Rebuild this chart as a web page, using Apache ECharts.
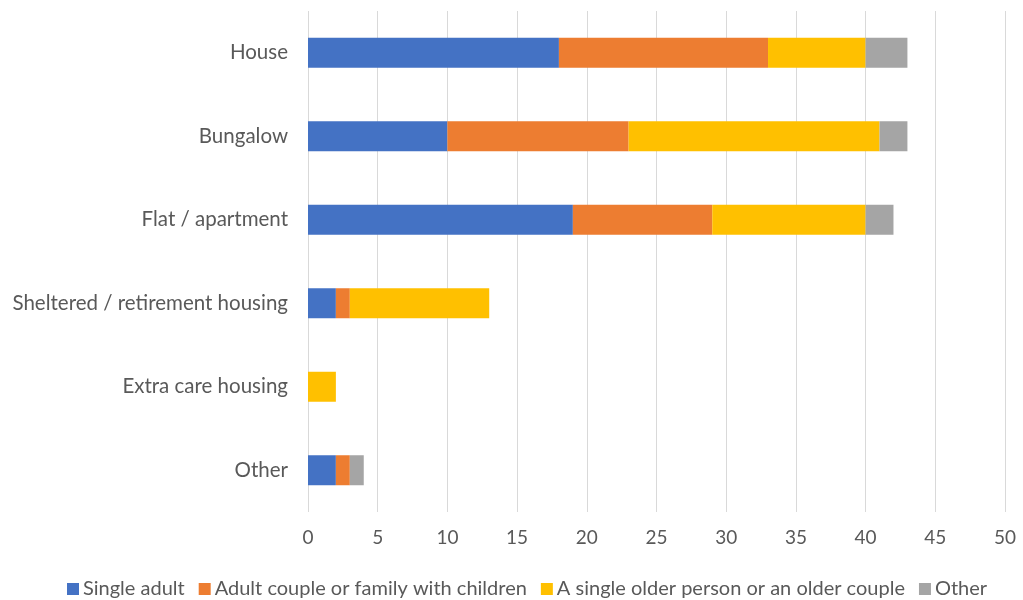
<!DOCTYPE html>
<html><head><meta charset="utf-8">
<script src="https://cdn.jsdelivr.net/npm/echarts@6/dist/echarts.min.js"></script>
<style>html,body{margin:0;padding:0;background:#fff}#c{width:1023px;height:600px}</style>
</head><body><div id="c"></div>
<script>
const categories = ["House","Bungalow","Flat / apartment","Sheltered / retirement housing","Extra care housing","Other"];
const singleAdult = [18,10,19,2,0,2];
const coupleFamily = [15,13,10,1,0,1];
const olderPerson = [7,18,11,10,2,0];
const otherVals = [3,2,2,0,0,1];
const seriesNames = ["Single adult","Adult couple or family with children","A single older person or an older couple","Other"];
const xTicks = {min:0,max:50,interval:5};

const colors = ["#4472C4","#ED7D31","#FFC000","#A5A5A5"];
const font = "Lato, 'Open Sans', sans-serif";
const data = [singleAdult, coupleFamily, olderPerson, otherVals];
const chart = echarts.init(document.getElementById('c'));
chart.setOption({
  animation:false,
  color: colors,
  grid:{left:308,right:18,top:11,bottom:88,containLabel:false},
  xAxis:{type:'value',min:xTicks.min,max:xTicks.max,interval:xTicks.interval,
    axisLine:{show:false},axisTick:{show:false},
    splitLine:{lineStyle:{color:'#d9d9d9',width:1}},
    axisLabel:{color:'#595959',fontSize:19,fontFamily:font,margin:16}},
  yAxis:{type:'category',data:categories,inverse:true,
    axisLine:{show:false},axisTick:{show:false},
    axisLabel:{color:'#595959',fontSize:20.5,fontFamily:font,margin:20}},
  legend:{top:574,left:62,itemWidth:12,itemHeight:12,itemGap:14,icon:'rect',
    textStyle:{color:'#595959',fontSize:20,fontFamily:font,padding:[0,0,0,-1]},data:seriesNames},
  series: seriesNames.map((n,i)=>({name:n,type:'bar',stack:'t',barWidth:30,data:data[i]}))
});
</script></body></html>
